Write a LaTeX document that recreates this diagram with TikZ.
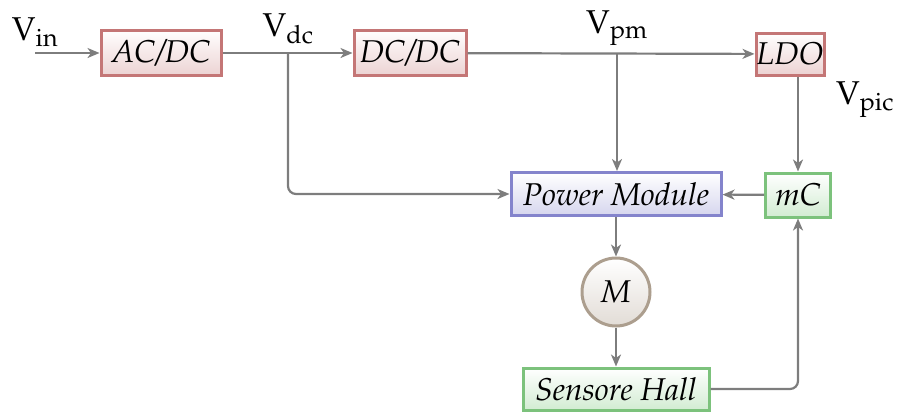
\documentclass[tikz,border=0pt]{standalone}
\usepackage[T1]{fontenc}
\usepackage{mathpazo}
\usetikzlibrary{arrows.meta}
\definecolor{linegray}{RGB}{125,125,125}
\definecolor{redb}{RGB}{196,118,118}
\definecolor{redf}{RGB}{236,210,210}
\definecolor{blueb}{RGB}{132,132,204}
\definecolor{bluef}{RGB}{214,214,238}
\definecolor{greenb}{RGB}{124,194,124}
\definecolor{greenf}{RGB}{210,236,210}
\definecolor{motb}{RGB}{172,158,142}
\definecolor{motf}{RGB}{226,220,214}
\begin{document}
\begin{tikzpicture}[x=1pt,y=-1pt,
  every node/.style={font=\fontsize{31.5}{36}\selectfont, inner sep=0pt},
  blk/.style={draw, line width=3pt, align=center, font=\fontsize{31.5}{36}\selectfont\itshape},
  redbox/.style={blk, draw=redb, top color=white, bottom color=redf},
  bluebox/.style={blk, draw=blueb, top color=white, bottom color=bluef},
  greenbox/.style={blk, draw=greenb, top color=white, bottom color=greenf},
  motor/.style={blk, circle, draw=motb, top color=white, bottom color=motf, minimum size=68},
  conn/.style={draw=linegray, line width=2.2pt, -{Stealth[length=12pt,width=10pt,inset=3.5pt]}},
  lbl/.style={font=\fontsize{33}{36}\selectfont}
]
\useasboundingbox (0,0) rectangle (897,413);
\node[redbox, minimum width=120, minimum height=45] (acdc) at (161,53) {AC/DC};
\node[redbox, minimum width=112, minimum height=45] (dcdc) at (410,53) {DC/DC};
\node[redbox, minimum width=68, minimum height=42] (ldo) at (790,54) {LDO};
\node[bluebox, minimum width=210, minimum height=43] (pm) at (616,194) {Power Module};
\node[greenbox, minimum width=65, minimum height=44] (mc) at (798,195) {mC};
\node[motor] (m) at (616,292) {M};
\node[greenbox, minimum width=186, minimum height=42] (sh) at (616,389) {Sensore Hall};

\node[lbl] (lin) at (35,32) {V\textsubscript{in}};
\node[lbl] (ldc) at (288,29) {V\textsubscript{dc}};
\node[lbl] (lpm) at (617,28) {V\textsubscript{pm}};
\node[lbl] (lpic) at (865,100) {V\textsubscript{pic}};

\coordinate (vin) at (35,53);
\coordinate (jdc) at (288,53);
\coordinate (jpm) at (617,53);

\draw[conn] (vin) -- (acdc);
\draw[conn] (acdc) -- (dcdc);
\draw[conn, rounded corners=8pt] (jdc) |- (pm.west);
\draw[conn] (dcdc) -- (ldo);
\draw[conn] (jpm) -- (jpm |- pm.north);
\draw[conn] (ldo.south -| mc.north) -- (mc.north);
\draw[conn] (mc) -- (pm);
\draw[conn] (pm) -- (m);
\draw[conn] (m) -- (sh);
\draw[conn, rounded corners=8pt] (sh.east) -| (mc.south);
\end{tikzpicture}
\end{document}
